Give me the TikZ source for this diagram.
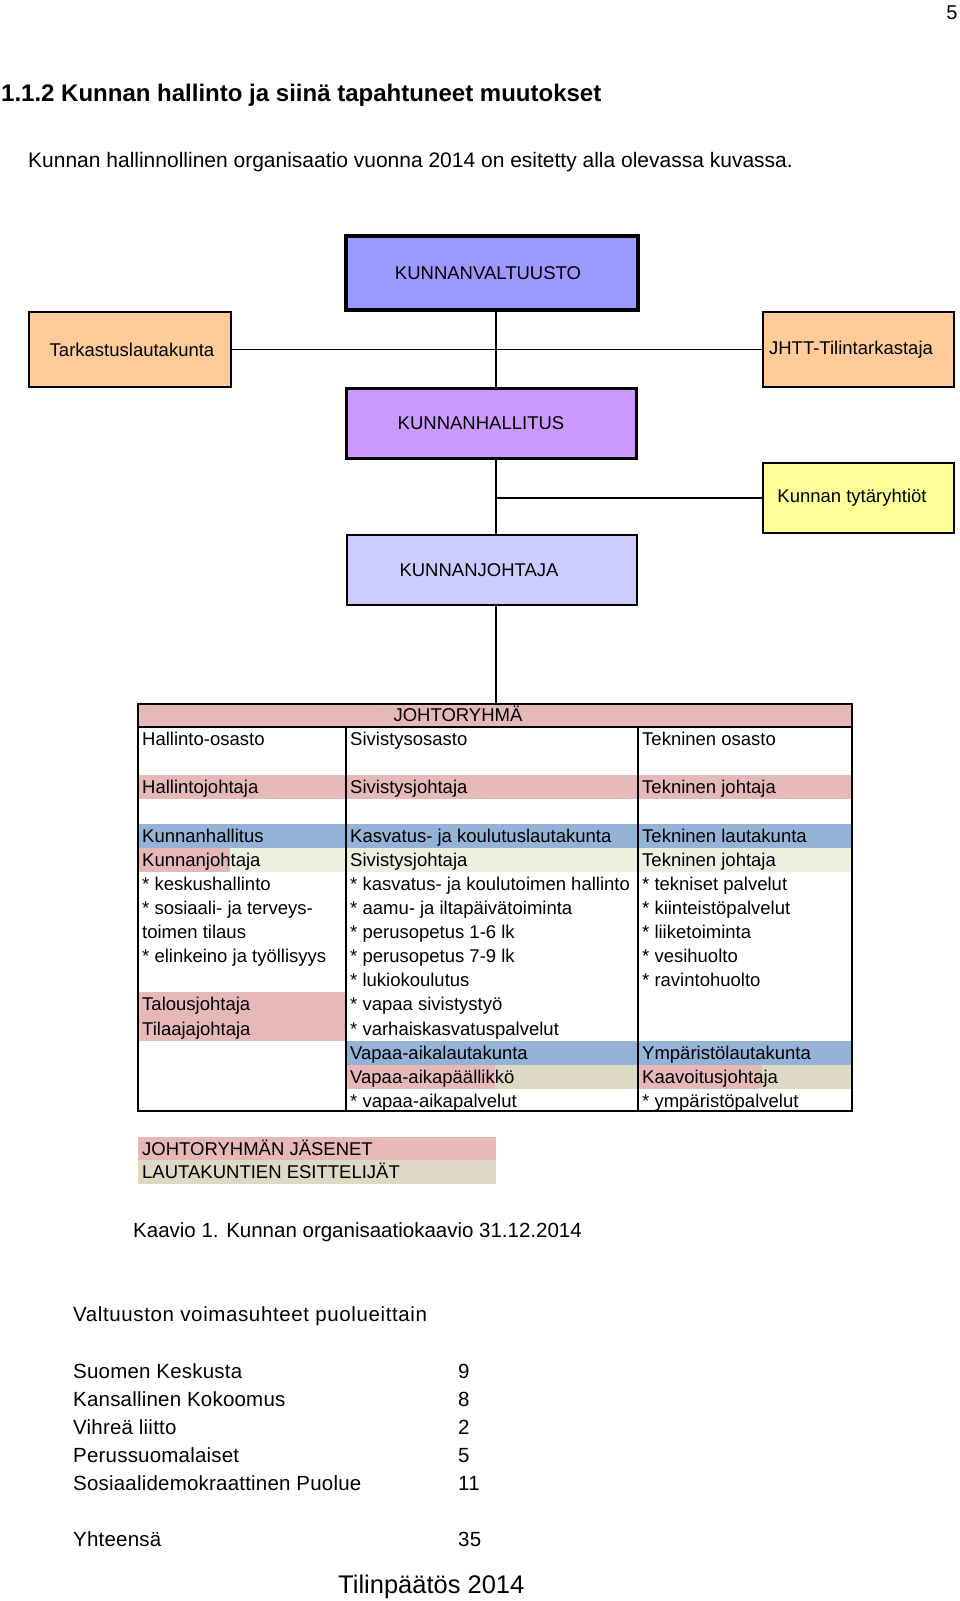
\documentclass[tikz,border=0pt]{standalone}
\usepackage{fontspec}
\setmainfont{Liberation Sans}
\definecolor{kvblue}{HTML}{9999FF}
\definecolor{khviolet}{HTML}{CC99FF}
\definecolor{kjlav}{HTML}{CCCCFF}
\definecolor{orangebox}{HTML}{FFCC99}
\definecolor{yellowbox}{HTML}{FFFF99}
\definecolor{pinkband}{HTML}{E6B9B8}
\definecolor{blueband}{HTML}{95B3D7}
\definecolor{greenband}{HTML}{EBF1DE}
\definecolor{beigeband}{HTML}{DDD9C4}
\begin{document}
\begin{tikzpicture}[x=1pt,y=-1pt,
  orgbox/.style={draw=black, inner sep=0pt, font=\fontsize{18.5}{21}\selectfont, text=black},
  conn/.style={draw=black, line width=1.6pt},
  cell/.style={anchor=base west, inner sep=0pt, font=\fontsize{18.5}{21}\selectfont, text=black},
  plain/.style={anchor=base west, inner sep=0pt, text=black},
  party/.style={plain, font=\fontsize{20.5}{24}\selectfont\addfontfeatures{LetterSpace=1}}]
\useasboundingbox (0,0) rectangle (960,1601);
\fill[white] (0,0) rectangle (960,1601);

% page number and heading
\node[plain, anchor=base, font=\fontsize{20}{24}\selectfont] (pnum) at (952,19) {5};
\node[plain, font=\bfseries\fontsize{24}{28}\selectfont] (head) at (1,101.5) {1.1.2 Kunnan hallinto ja siinä tapahtuneet muutokset};
\node[plain, font=\fontsize{21}{25}\selectfont] (sub) at (28,167.5) {Kunnan hallinnollinen organisaatio vuonna 2014 on esitetty alla olevassa kuvassa.};

% organisation boxes
\node[orgbox, fill=kvblue, line width=4pt, minimum width=292pt, minimum height=74pt] (kv) at (492,273) {\hspace*{-8pt}KUNNANVALTUUSTO};
\node[orgbox, fill=orangebox, line width=2pt, minimum width=202pt, minimum height=75pt] (tark) at (130,349.5) {\hspace*{4pt}Tarkastuslautakunta};
\node[orgbox, fill=orangebox, line width=2pt, minimum width=191pt, minimum height=75pt] (jhtt) at (858.5,349.5) {\hspace*{-15pt}JHTT-Tilintarkastaja};
\node[orgbox, fill=khviolet, line width=3pt, minimum width=290pt, minimum height=70pt] (kh) at (491.5,423.5) {\hspace*{-21pt}KUNNANHALLITUS};
\node[orgbox, fill=yellowbox, line width=2pt, minimum width=191pt, minimum height=70pt] (tyt) at (858.5,498) {\hspace*{-13pt}Kunnan tytäryhtiöt};
\node[orgbox, fill=kjlav, line width=2pt, minimum width=290pt, minimum height=70pt] (kj) at (492,570) {\hspace*{-26pt}KUNNANJOHTAJA};

\coordinate (trunk) at (496,0);

% table bands
\fill[pinkband] (138,703) rectangle (853,727);
\fill[pinkband] (138,775.25) rectangle (853,799.4);
\fill[blueband] (138,823.5) rectangle (853,847.6);
\fill[greenband] (138,847.6) rectangle (853,871.75);
\fill[pinkband] (138,847.6) rectangle (230,871.75);
\fill[pinkband] (138,992.4) rectangle (346,1040.6);
\fill[blueband] (346,1040.6) rectangle (853,1064.75);
\fill[beigeband] (346,1064.75) rectangle (853,1088.9);
\fill[pinkband] (346,1064.75) rectangle (495,1088.9);
\fill[pinkband] (638,1064.75) rectangle (762,1088.9);

% table frame
\node[draw=black, line width=2pt, inner sep=0pt, minimum width=714pt, minimum height=407pt] (tbl) at (495,907.5) {};
\draw[line width=1.6pt] (tbl.west |- 0,727) -- (tbl.east |- 0,727);
\draw[line width=1.6pt] (346,727) -- (346,0 |- tbl.south);
\draw[line width=1.6pt] (638,727) -- (638,0 |- tbl.south);

% connectors
\draw[conn] (kv.south -| trunk) -- (kh.north -| trunk);
\draw[conn] (tark.east) -- (jhtt.west);
\draw[conn] (kh.south -| trunk) -- (kj.north -| trunk);
\draw[conn] (tyt.west) -- (tyt.west -| trunk);
\draw[conn] (kj.south -| trunk) -- (tbl.north -| trunk);

% table texts
\node[cell, anchor=base] (jr) at (458,721.5) {JOHTORYHMÄ};
\foreach \r/\x/\txt [count=\i] in {
 0/142/Hallinto-osasto, 0/350/Sivistysosasto, 0/642/Tekninen osasto,
 2/142/Hallintojohtaja, 2/350/Sivistysjohtaja, 2/642/Tekninen johtaja,
 4/142/Kunnanhallitus, 4/350/Kasvatus- ja koulutuslautakunta, 4/642/Tekninen lautakunta,
 5/142/Kunnanjohtaja, 5/350/Sivistysjohtaja, 5/642/Tekninen johtaja,
 6/142/* keskushallinto, 6/350/* kasvatus- ja koulutoimen hallinto, 6/642/* tekniset palvelut,
 7/142/* sosiaali- ja terveys-, 7/350/* aamu- ja iltapäivätoiminta, 7/642/* kiinteistöpalvelut,
 8/142/toimen tilaus, 8/350/* perusopetus 1-6 lk, 8/642/* liiketoiminta,
 9/142/* elinkeino ja työllisyys, 9/350/* perusopetus 7-9 lk, 9/642/* vesihuolto,
 10/350/* lukiokoulutus, 10/642/* ravintohuolto,
 11/142/Talousjohtaja, 11/350/* vapaa sivistystyö,
 12/142/Tilaajajohtaja, 12/350/* varhaiskasvatuspalvelut,
 13/350/Vapaa-aikalautakunta, 13/642/Ympäristölautakunta,
 14/350/Vapaa-aikapäällikkö, 14/642/Kaavoitusjohtaja,
 15/350/* vapaa-aikapalvelut, 15/642/* ympäristöpalvelut}
 \node[cell] (cell\i) at (\x,{727+(\r+0.5)*24.125+6.5}) {\txt};

% legend
\fill[pinkband] (138,1137) rectangle (496,1160);
\fill[beigeband] (138,1160) rectangle (496,1184);
\node[cell] (leg1) at (142,1155) {JOHTORYHMÄN JÄSENET};
\node[cell] (leg2) at (142,1178.5) {LAUTAKUNTIEN ESITTELIJÄT};

% caption
\node[plain, font=\fontsize{20.5}{24}\selectfont] (cap) at (133,1237) {Kaavio 1. Kunnan organisaatiokaavio 31.12.2014};

% party table
\node[plain, font=\fontsize{20.5}{24}\selectfont\addfontfeatures{LetterSpace=3}] (vt) at (73,1321) {Valtuuston voimasuhteet puolueittain};
\foreach \y/\p/\n [count=\i] in {1371/Suomen Keskusta/9, 1399/Kansallinen Kokoomus/8, 1427/Vihreä liitto/2, 1455/Perussuomalaiset/5, 1483/Sosiaalidemokraattinen Puolue/11, 1539/Yhteensä/35} {
 \node[party] (party\i) at (73,\y+7.3) {\p};
 \node[party] (seats\i) at (458,\y+7.3) {\n};
}
\node[plain, font=\fontsize{25.5}{30}\selectfont] (foot) at (338,1593) {Tilinpäätös 2014};
\end{tikzpicture}
\end{document}
